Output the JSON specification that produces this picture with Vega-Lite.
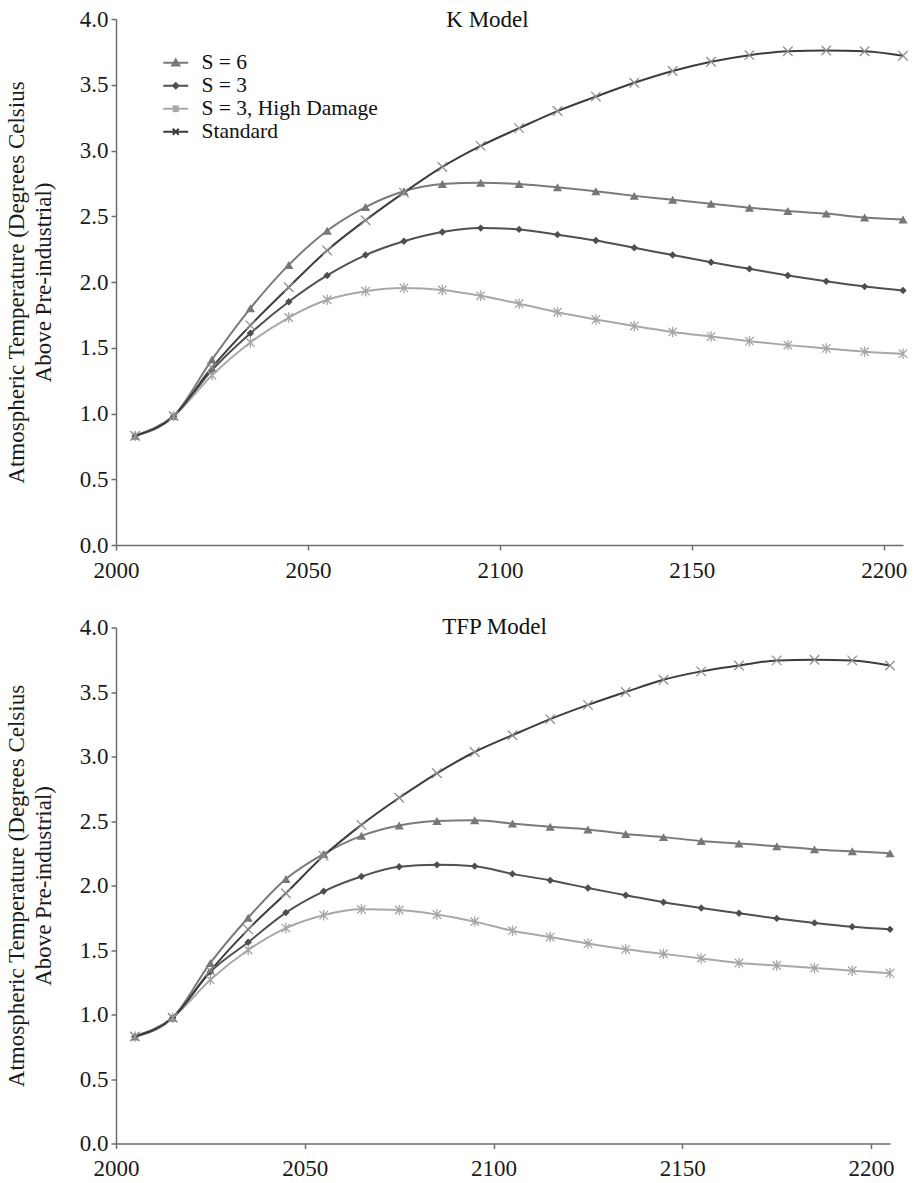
{
  "$schema": "https://vega.github.io/schema/vega-lite/v6.json",
  "background": "white",
  "padding": {"left": 5, "top": 8, "right": 2, "bottom": 2},
  "datasets": {
    "temps": [
      {"model":"K","series":"S = 6","year":2005,"temp":0.83},{"model":"K","series":"S = 6","year":2015,"temp":0.98},{"model":"K","series":"S = 6","year":2025,"temp":1.41},{"model":"K","series":"S = 6","year":2035,"temp":1.80},{"model":"K","series":"S = 6","year":2045,"temp":2.13},{"model":"K","series":"S = 6","year":2055,"temp":2.39},{"model":"K","series":"S = 6","year":2065,"temp":2.57},{"model":"K","series":"S = 6","year":2075,"temp":2.69},{"model":"K","series":"S = 6","year":2085,"temp":2.745},{"model":"K","series":"S = 6","year":2095,"temp":2.755},{"model":"K","series":"S = 6","year":2105,"temp":2.745},{"model":"K","series":"S = 6","year":2115,"temp":2.72},{"model":"K","series":"S = 6","year":2125,"temp":2.69},{"model":"K","series":"S = 6","year":2135,"temp":2.655},{"model":"K","series":"S = 6","year":2145,"temp":2.625},{"model":"K","series":"S = 6","year":2155,"temp":2.595},{"model":"K","series":"S = 6","year":2165,"temp":2.565},{"model":"K","series":"S = 6","year":2175,"temp":2.54},{"model":"K","series":"S = 6","year":2185,"temp":2.52},{"model":"K","series":"S = 6","year":2195,"temp":2.49},{"model":"K","series":"S = 6","year":2205,"temp":2.475},
      {"model":"K","series":"S = 3","year":2005,"temp":0.83},{"model":"K","series":"S = 3","year":2015,"temp":0.98},{"model":"K","series":"S = 3","year":2025,"temp":1.33},{"model":"K","series":"S = 3","year":2035,"temp":1.61},{"model":"K","series":"S = 3","year":2045,"temp":1.85},{"model":"K","series":"S = 3","year":2055,"temp":2.05},{"model":"K","series":"S = 3","year":2065,"temp":2.205},{"model":"K","series":"S = 3","year":2075,"temp":2.31},{"model":"K","series":"S = 3","year":2085,"temp":2.38},{"model":"K","series":"S = 3","year":2095,"temp":2.41},{"model":"K","series":"S = 3","year":2105,"temp":2.40},{"model":"K","series":"S = 3","year":2115,"temp":2.36},{"model":"K","series":"S = 3","year":2125,"temp":2.315},{"model":"K","series":"S = 3","year":2135,"temp":2.26},{"model":"K","series":"S = 3","year":2145,"temp":2.205},{"model":"K","series":"S = 3","year":2155,"temp":2.15},{"model":"K","series":"S = 3","year":2165,"temp":2.10},{"model":"K","series":"S = 3","year":2175,"temp":2.05},{"model":"K","series":"S = 3","year":2185,"temp":2.005},{"model":"K","series":"S = 3","year":2195,"temp":1.965},{"model":"K","series":"S = 3","year":2205,"temp":1.935},
      {"model":"K","series":"S = 3, High Damage","year":2005,"temp":0.83},{"model":"K","series":"S = 3, High Damage","year":2015,"temp":0.98},{"model":"K","series":"S = 3, High Damage","year":2025,"temp":1.29},{"model":"K","series":"S = 3, High Damage","year":2035,"temp":1.54},{"model":"K","series":"S = 3, High Damage","year":2045,"temp":1.73},{"model":"K","series":"S = 3, High Damage","year":2055,"temp":1.865},{"model":"K","series":"S = 3, High Damage","year":2065,"temp":1.93},{"model":"K","series":"S = 3, High Damage","year":2075,"temp":1.955},{"model":"K","series":"S = 3, High Damage","year":2085,"temp":1.94},{"model":"K","series":"S = 3, High Damage","year":2095,"temp":1.895},{"model":"K","series":"S = 3, High Damage","year":2105,"temp":1.835},{"model":"K","series":"S = 3, High Damage","year":2115,"temp":1.77},{"model":"K","series":"S = 3, High Damage","year":2125,"temp":1.715},{"model":"K","series":"S = 3, High Damage","year":2135,"temp":1.665},{"model":"K","series":"S = 3, High Damage","year":2145,"temp":1.62},{"model":"K","series":"S = 3, High Damage","year":2155,"temp":1.585},{"model":"K","series":"S = 3, High Damage","year":2165,"temp":1.55},{"model":"K","series":"S = 3, High Damage","year":2175,"temp":1.52},{"model":"K","series":"S = 3, High Damage","year":2185,"temp":1.495},{"model":"K","series":"S = 3, High Damage","year":2195,"temp":1.47},{"model":"K","series":"S = 3, High Damage","year":2205,"temp":1.455},
      {"model":"K","series":"Standard","year":2005,"temp":0.83},{"model":"K","series":"Standard","year":2015,"temp":0.98},{"model":"K","series":"Standard","year":2025,"temp":1.35},{"model":"K","series":"Standard","year":2035,"temp":1.67},{"model":"K","series":"Standard","year":2045,"temp":1.96},{"model":"K","series":"Standard","year":2055,"temp":2.24},{"model":"K","series":"Standard","year":2065,"temp":2.47},{"model":"K","series":"Standard","year":2075,"temp":2.68},{"model":"K","series":"Standard","year":2085,"temp":2.875},{"model":"K","series":"Standard","year":2095,"temp":3.035},{"model":"K","series":"Standard","year":2105,"temp":3.17},{"model":"K","series":"Standard","year":2115,"temp":3.30},{"model":"K","series":"Standard","year":2125,"temp":3.41},{"model":"K","series":"Standard","year":2135,"temp":3.515},{"model":"K","series":"Standard","year":2145,"temp":3.605},{"model":"K","series":"Standard","year":2155,"temp":3.675},{"model":"K","series":"Standard","year":2165,"temp":3.725},{"model":"K","series":"Standard","year":2175,"temp":3.755},{"model":"K","series":"Standard","year":2185,"temp":3.76},{"model":"K","series":"Standard","year":2195,"temp":3.755},{"model":"K","series":"Standard","year":2205,"temp":3.72},
      {"model":"TFP","series":"S = 6","year":2005,"temp":0.83},{"model":"TFP","series":"S = 6","year":2015,"temp":0.975},{"model":"TFP","series":"S = 6","year":2025,"temp":1.40},{"model":"TFP","series":"S = 6","year":2035,"temp":1.75},{"model":"TFP","series":"S = 6","year":2045,"temp":2.05},{"model":"TFP","series":"S = 6","year":2055,"temp":2.245},{"model":"TFP","series":"S = 6","year":2065,"temp":2.385},{"model":"TFP","series":"S = 6","year":2075,"temp":2.465},{"model":"TFP","series":"S = 6","year":2085,"temp":2.50},{"model":"TFP","series":"S = 6","year":2095,"temp":2.505},{"model":"TFP","series":"S = 6","year":2105,"temp":2.48},{"model":"TFP","series":"S = 6","year":2115,"temp":2.455},{"model":"TFP","series":"S = 6","year":2125,"temp":2.435},{"model":"TFP","series":"S = 6","year":2135,"temp":2.40},{"model":"TFP","series":"S = 6","year":2145,"temp":2.375},{"model":"TFP","series":"S = 6","year":2155,"temp":2.345},{"model":"TFP","series":"S = 6","year":2165,"temp":2.325},{"model":"TFP","series":"S = 6","year":2175,"temp":2.305},{"model":"TFP","series":"S = 6","year":2185,"temp":2.28},{"model":"TFP","series":"S = 6","year":2195,"temp":2.265},{"model":"TFP","series":"S = 6","year":2205,"temp":2.25},
      {"model":"TFP","series":"S = 3","year":2005,"temp":0.83},{"model":"TFP","series":"S = 3","year":2015,"temp":0.975},{"model":"TFP","series":"S = 3","year":2025,"temp":1.33},{"model":"TFP","series":"S = 3","year":2035,"temp":1.56},{"model":"TFP","series":"S = 3","year":2045,"temp":1.79},{"model":"TFP","series":"S = 3","year":2055,"temp":1.955},{"model":"TFP","series":"S = 3","year":2065,"temp":2.07},{"model":"TFP","series":"S = 3","year":2075,"temp":2.145},{"model":"TFP","series":"S = 3","year":2085,"temp":2.16},{"model":"TFP","series":"S = 3","year":2095,"temp":2.15},{"model":"TFP","series":"S = 3","year":2105,"temp":2.09},{"model":"TFP","series":"S = 3","year":2115,"temp":2.04},{"model":"TFP","series":"S = 3","year":2125,"temp":1.98},{"model":"TFP","series":"S = 3","year":2135,"temp":1.925},{"model":"TFP","series":"S = 3","year":2145,"temp":1.87},{"model":"TFP","series":"S = 3","year":2155,"temp":1.825},{"model":"TFP","series":"S = 3","year":2165,"temp":1.785},{"model":"TFP","series":"S = 3","year":2175,"temp":1.745},{"model":"TFP","series":"S = 3","year":2185,"temp":1.71},{"model":"TFP","series":"S = 3","year":2195,"temp":1.68},{"model":"TFP","series":"S = 3","year":2205,"temp":1.66},
      {"model":"TFP","series":"S = 3, High Damage","year":2005,"temp":0.83},{"model":"TFP","series":"S = 3, High Damage","year":2015,"temp":0.975},{"model":"TFP","series":"S = 3, High Damage","year":2025,"temp":1.27},{"model":"TFP","series":"S = 3, High Damage","year":2035,"temp":1.50},{"model":"TFP","series":"S = 3, High Damage","year":2045,"temp":1.67},{"model":"TFP","series":"S = 3, High Damage","year":2055,"temp":1.77},{"model":"TFP","series":"S = 3, High Damage","year":2065,"temp":1.815},{"model":"TFP","series":"S = 3, High Damage","year":2075,"temp":1.81},{"model":"TFP","series":"S = 3, High Damage","year":2085,"temp":1.775},{"model":"TFP","series":"S = 3, High Damage","year":2095,"temp":1.72},{"model":"TFP","series":"S = 3, High Damage","year":2105,"temp":1.65},{"model":"TFP","series":"S = 3, High Damage","year":2115,"temp":1.60},{"model":"TFP","series":"S = 3, High Damage","year":2125,"temp":1.55},{"model":"TFP","series":"S = 3, High Damage","year":2135,"temp":1.505},{"model":"TFP","series":"S = 3, High Damage","year":2145,"temp":1.47},{"model":"TFP","series":"S = 3, High Damage","year":2155,"temp":1.435},{"model":"TFP","series":"S = 3, High Damage","year":2165,"temp":1.40},{"model":"TFP","series":"S = 3, High Damage","year":2175,"temp":1.38},{"model":"TFP","series":"S = 3, High Damage","year":2185,"temp":1.36},{"model":"TFP","series":"S = 3, High Damage","year":2195,"temp":1.34},{"model":"TFP","series":"S = 3, High Damage","year":2205,"temp":1.32},
      {"model":"TFP","series":"Standard","year":2005,"temp":0.83},{"model":"TFP","series":"Standard","year":2015,"temp":0.975},{"model":"TFP","series":"Standard","year":2025,"temp":1.34},{"model":"TFP","series":"Standard","year":2035,"temp":1.66},{"model":"TFP","series":"Standard","year":2045,"temp":1.94},{"model":"TFP","series":"Standard","year":2055,"temp":2.23},{"model":"TFP","series":"Standard","year":2065,"temp":2.47},{"model":"TFP","series":"Standard","year":2075,"temp":2.68},{"model":"TFP","series":"Standard","year":2085,"temp":2.87},{"model":"TFP","series":"Standard","year":2095,"temp":3.035},{"model":"TFP","series":"Standard","year":2105,"temp":3.165},{"model":"TFP","series":"Standard","year":2115,"temp":3.29},{"model":"TFP","series":"Standard","year":2125,"temp":3.40},{"model":"TFP","series":"Standard","year":2135,"temp":3.50},{"model":"TFP","series":"Standard","year":2145,"temp":3.595},{"model":"TFP","series":"Standard","year":2155,"temp":3.66},{"model":"TFP","series":"Standard","year":2165,"temp":3.705},{"model":"TFP","series":"Standard","year":2175,"temp":3.745},{"model":"TFP","series":"Standard","year":2185,"temp":3.75},{"model":"TFP","series":"Standard","year":2195,"temp":3.745},{"model":"TFP","series":"Standard","year":2205,"temp":3.705}
    ]
  },
  "spacing": 33.5,
  "resolve": {
    "scale": {"shape": "independent", "fill": "independent", "stroke": "independent"},
    "legend": {"shape": "independent", "fill": "independent", "stroke": "independent"}
  },
  "vconcat": [
    {
      "width": 787,
      "height": 526,
      "data": {"name": "temps"},
      "transform": [{"filter": "datum.model == 'K'"}],
      "encoding": {
        "y": {"field": "temp", "type": "quantitative", "scale": {"domain": [0, 4], "nice": false},
              "axis": {"title": ["Atmospheric Temperature (Degrees Celsius", "Above Pre-industrial)"], "values": [0, 0.5, 1, 1.5, 2, 2.5, 3, 3.5, 4], "format": ".1f", "labelPadding": 3, "titlePadding": 24, "labelFont": "Liberation Serif", "labelFontSize": 23, "titleFont": "Liberation Serif"}}
      },
      "layer": [
        {"mark": {"type": "line", "interpolate": "monotone", "strokeWidth": 2},
         "encoding": {
           "x": {"field": "year", "type": "quantitative", "scale": {"domain": [2000, 2205], "nice": false, "zero": false},
                 "axis": {"orient": "bottom", "title": null, "values": [2000, 2050, 2100, 2150, 2200], "format": "d", "labelPadding": 9, "labelFlush": false, "labelOverlap": false, "labelFont": "Liberation Serif", "labelFontSize": 23}},
           "color": {"field": "series", "type": "nominal", "legend": null,
            "scale": {"domain": ["S = 6", "S = 3", "S = 3, High Damage", "Standard"], "range": ["#7a7a7a", "#505050", "#a8a8a8", "#3c3c3c"]}}}},
        {"transform": [{"filter": "datum.series == 'S = 6'"}],
         "mark": {"type": "point", "shape": "triangle-up", "filled": true, "size": 85, "color": "#777777", "opacity": 1},
         "encoding": {"x": {"field": "year", "type": "quantitative", "scale": {"domain": [2000, 2205], "nice": false, "zero": false}, "axis": null}}},
        {"transform": [{"filter": "datum.series == 'S = 3'"}],
         "mark": {"type": "point", "shape": "diamond", "filled": true, "size": 55, "color": "#4e4e4e", "opacity": 1},
         "encoding": {"x": {"field": "year", "type": "quantitative", "scale": {"domain": [2000, 2205], "nice": false, "zero": false}, "axis": null}}},
        {"transform": [{"filter": "datum.series == 'S = 3, High Damage'"}],
         "mark": {"type": "point", "shape": "M-0.8,-0.8L0.8,0.8M-0.8,0.8L0.8,-0.8M0,-1L0,1", "filled": false, "size": 110, "color": "#a5a5a5", "strokeWidth": 1.3, "opacity": 1},
         "encoding": {"x": {"field": "year", "type": "quantitative", "scale": {"domain": [2000, 2205], "nice": false, "zero": false}, "axis": null}}},
        {"transform": [{"filter": "datum.series == 'Standard'"}],
         "mark": {"type": "point", "shape": "M-1,-1L1,1M-1,1L1,-1", "filled": false, "size": 90, "color": "#8f8f8f", "strokeWidth": 1.3, "opacity": 1},
         "encoding": {"x": {"field": "year", "type": "quantitative", "scale": {"domain": [2000, 2205], "nice": false, "zero": false}, "axis": null}}},
        {"transform": [{"filter": "false"}],
         "mark": {"type": "point", "filled": true, "opacity": 1},
         "encoding": {
           "x": {"field": "year", "type": "quantitative", "scale": {"domain": [2000, 2205], "nice": false, "zero": false},
                 "axis": {"orient": "top", "title": "K Model", "domain": false, "ticks": false, "labels": false, "grid": false, "titlePadding": -7, "titleBaseline": "alphabetic", "titleX": 371, "titleFont": "Liberation Serif", "titleFontSize": 23, "titleFontWeight": "normal", "titleColor": "#111"}},
           "shape": {"field": "series", "type": "nominal",
             "scale": {"domain": ["S = 6", "S = 3", "S = 3, High Damage", "Standard"],
                       "range": ["M-2.08,0L2.08,0M-0.6,0.45L0,-0.55L0.6,0.45Z", "M-2.08,0L2.08,0M-0.45,0L0,-0.45L0.45,0L0,0.45Z", "M-2.08,0L2.08,0M-0.5,-0.5L0.5,0.5M-0.5,0.5L0.5,-0.5M0,-0.6L0,0.6", "M-2.08,0L2.08,0M-0.5,-0.5L0.5,0.5M-0.5,0.5L0.5,-0.5"]},
             "legend": {"orient": "none", "legendX": 49, "legendY": 33, "title": null, "padding": 0, "labelFont": "Liberation Serif", "labelFontSize": 21.5, "labelColor": "#111", "symbolSize": 144, "symbolStrokeWidth": 2, "rowPadding": 0, "labelOffset": 15, "labelLimit": 400}},
           "fill": {"field": "series", "type": "nominal",
             "scale": {"domain": ["S = 6", "S = 3", "S = 3, High Damage", "Standard"], "range": ["#7a7a7a", "#505050", "#a8a8a8", "#3c3c3c"]},
             "legend": {"orient": "none", "legendX": 49, "legendY": 33, "title": null, "padding": 0, "labelFont": "Liberation Serif", "labelFontSize": 21.5, "labelColor": "#111", "symbolSize": 144, "symbolStrokeWidth": 2, "rowPadding": 0, "labelOffset": 15, "labelLimit": 400}},
           "stroke": {"field": "series", "type": "nominal",
             "scale": {"domain": ["S = 6", "S = 3", "S = 3, High Damage", "Standard"], "range": ["#7a7a7a", "#505050", "#a8a8a8", "#3c3c3c"]},
             "legend": {"orient": "none", "legendX": 49, "legendY": 33, "title": null, "padding": 0, "labelFont": "Liberation Serif", "labelFontSize": 21.5, "labelColor": "#111", "symbolSize": 144, "symbolStrokeWidth": 2, "rowPadding": 0, "labelOffset": 15, "labelLimit": 400}}
         }}
      ]
    },
    {
      "width": 774,
      "height": 516,
      "data": {"name": "temps"},
      "transform": [{"filter": "datum.model == 'TFP'"}],
      "encoding": {
        "y": {"field": "temp", "type": "quantitative", "scale": {"domain": [0, 4], "nice": false},
              "axis": {"title": ["Atmospheric Temperature (Degrees Celsius", "Above Pre-industrial)"], "values": [0, 0.5, 1, 1.5, 2, 2.5, 3, 3.5, 4], "format": ".1f", "labelPadding": 3, "titlePadding": 24, "labelFont": "Liberation Serif", "labelFontSize": 23, "titleFont": "Liberation Serif"}}
      },
      "layer": [
        {"mark": {"type": "line", "interpolate": "monotone", "strokeWidth": 2},
         "encoding": {
           "x": {"field": "year", "type": "quantitative", "scale": {"domain": [2000, 2205], "nice": false, "zero": false},
                 "axis": {"orient": "bottom", "title": null, "values": [2000, 2050, 2100, 2150, 2200], "format": "d", "labelPadding": 9, "labelFlush": false, "labelOverlap": false, "labelFont": "Liberation Serif", "labelFontSize": 23}},
           "color": {"field": "series", "type": "nominal", "legend": null,
            "scale": {"domain": ["S = 6", "S = 3", "S = 3, High Damage", "Standard"], "range": ["#7a7a7a", "#505050", "#a8a8a8", "#3c3c3c"]}}}},
        {"transform": [{"filter": "datum.series == 'S = 6'"}],
         "mark": {"type": "point", "shape": "triangle-up", "filled": true, "size": 85, "color": "#777777", "opacity": 1},
         "encoding": {"x": {"field": "year", "type": "quantitative", "scale": {"domain": [2000, 2205], "nice": false, "zero": false}, "axis": null}}},
        {"transform": [{"filter": "datum.series == 'S = 3'"}],
         "mark": {"type": "point", "shape": "diamond", "filled": true, "size": 55, "color": "#4e4e4e", "opacity": 1},
         "encoding": {"x": {"field": "year", "type": "quantitative", "scale": {"domain": [2000, 2205], "nice": false, "zero": false}, "axis": null}}},
        {"transform": [{"filter": "datum.series == 'S = 3, High Damage'"}],
         "mark": {"type": "point", "shape": "M-0.8,-0.8L0.8,0.8M-0.8,0.8L0.8,-0.8M0,-1L0,1", "filled": false, "size": 110, "color": "#a5a5a5", "strokeWidth": 1.3, "opacity": 1},
         "encoding": {"x": {"field": "year", "type": "quantitative", "scale": {"domain": [2000, 2205], "nice": false, "zero": false}, "axis": null}}},
        {"transform": [{"filter": "datum.series == 'Standard'"}],
         "mark": {"type": "point", "shape": "M-1,-1L1,1M-1,1L1,-1", "filled": false, "size": 90, "color": "#8f8f8f", "strokeWidth": 1.3, "opacity": 1},
         "encoding": {"x": {"field": "year", "type": "quantitative", "scale": {"domain": [2000, 2205], "nice": false, "zero": false}, "axis": null}}},
        {"transform": [{"filter": "false"}],
         "mark": {"type": "point", "opacity": 1},
         "encoding": {
           "x": {"field": "year", "type": "quantitative", "scale": {"domain": [2000, 2205], "nice": false, "zero": false},
                 "axis": {"orient": "top", "title": "TFP Model", "domain": false, "ticks": false, "labels": false, "grid": false, "titlePadding": -6, "titleBaseline": "alphabetic", "titleX": 378, "titleFont": "Liberation Serif", "titleFontSize": 23, "titleFontWeight": "normal", "titleColor": "#111"}}
         }}
      ]
    }
  ],
  "config": {
    "font": "Liberation Serif",
    "view": {"stroke": null},
    "legend": {"labelFont": "Liberation Serif"},
    "axis": {
      "grid": false,
      "domainColor": "#6e6e6e", "domainWidth": 1.5,
      "tickColor": "#6e6e6e", "tickWidth": 1.5, "tickSize": 5,
      "labelFont": "Liberation Serif", "labelFontSize": 23, "labelColor": "#1a1a1a",
      "titleFont": "Liberation Serif", "titleFontSize": 23, "titleFontWeight": "normal", "titleColor": "#1a1a1a", "titleLineHeight": 27
    }
  }
}
